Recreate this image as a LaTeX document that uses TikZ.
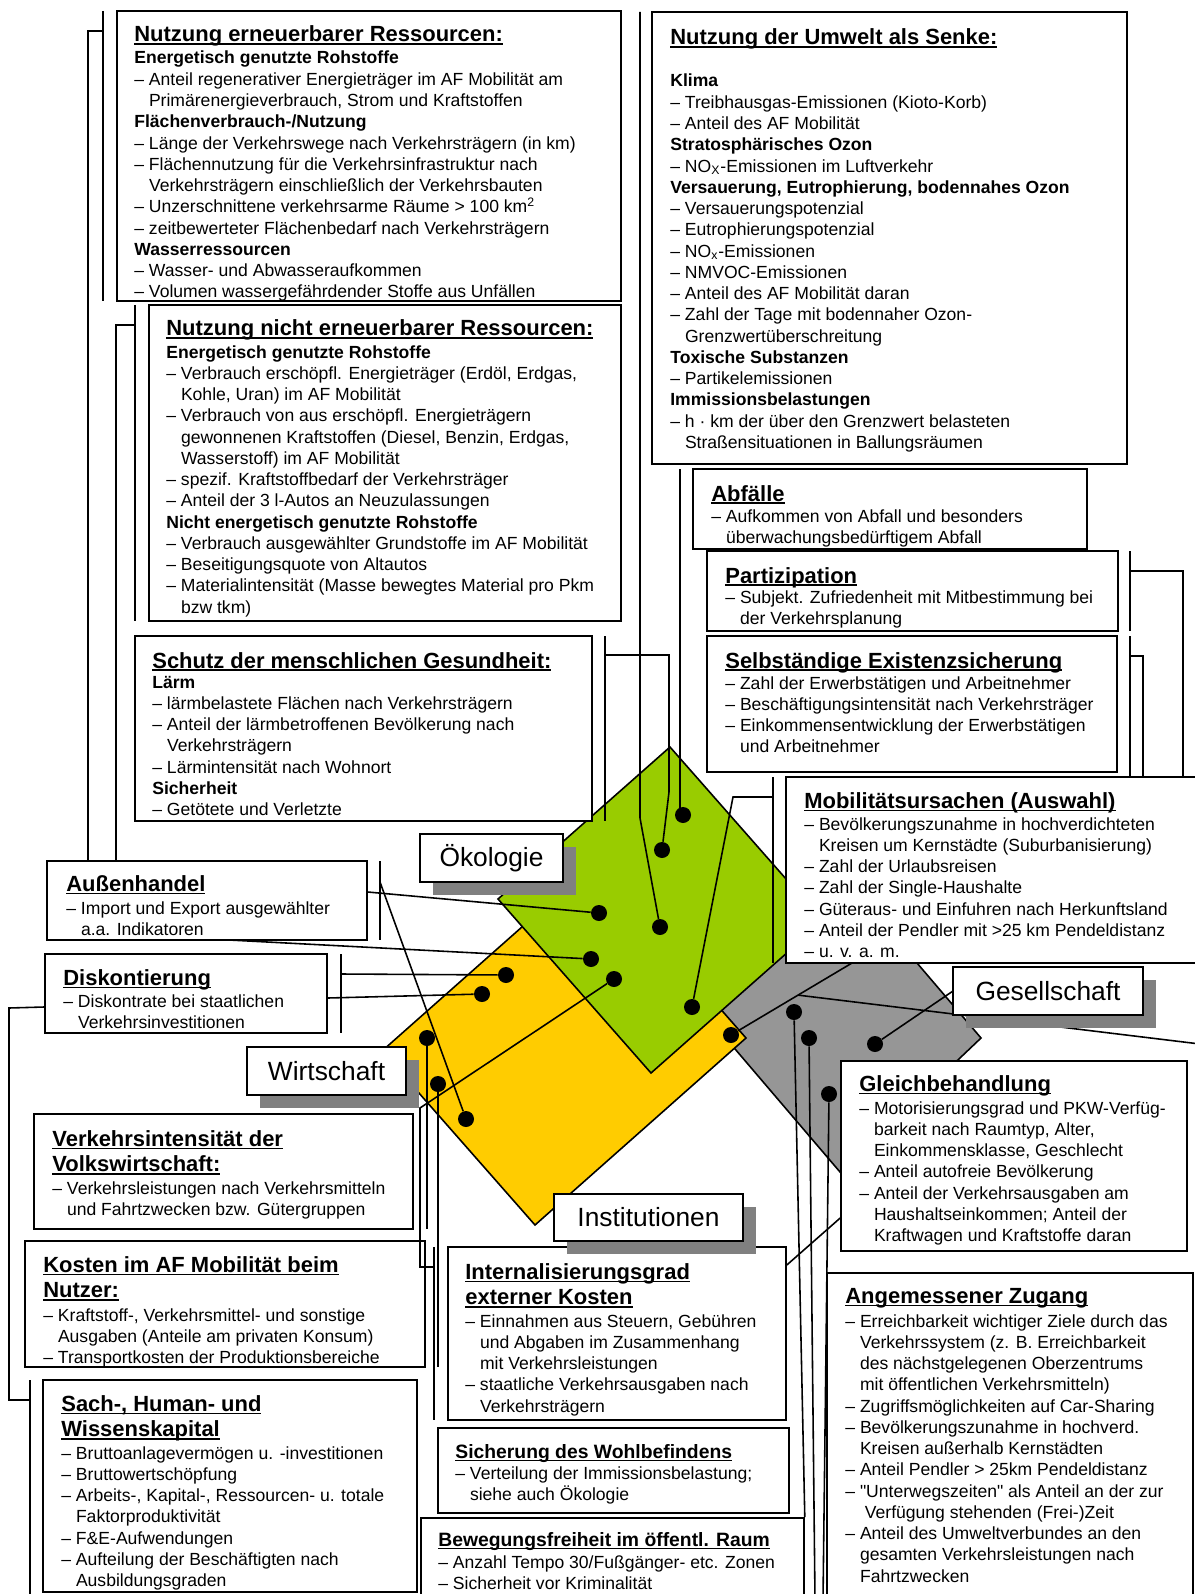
\documentclass[tikz,border=0pt]{standalone}
\usepackage{fontspec}
\setmainfont{Liberation Sans}[Ligatures=TeXOff]
\usetikzlibrary{fit,calc,shadows}
\definecolor{oekogruen}{HTML}{99CC00}
\definecolor{wirtgelb}{HTML}{FFCC00}
\definecolor{gesgrau}{HTML}{969696}
\definecolor{schatten}{HTML}{808080}
\newcommand{\einr}{\hspace*{0.834em}}
\newcommand{\zeilen}[1]{\parbox[t]{11cm}{#1}}
\newcommand{\unter}[1]{\leavevmode\setbox0\hbox{#1}\rlap{\rule[-1.7pt]{\wd0}{0.85pt}}\box0}

\begin{document}
\begin{tikzpicture}[x=0.02cm,y=-0.02cm,
box/.style={draw, line width=0.9pt, fill=white, inner sep=0pt},
titel/.style={anchor=base west, inner sep=0pt, font=\fontsize{12.5}{14.76}\selectfont\bfseries},
kleintitel/.style={anchor=base west, inner sep=0pt, font=\fontsize{11}{13}\selectfont\bfseries},
inhalt/.style={anchor=base west, inner sep=0pt, font=\fontsize{10}{12.1}\selectfont},
linie/.style={line width=0.9pt},
punkt/.style={circle, fill=black, inner sep=0pt, minimum size=0.32cm},
raute/.style={draw, line width=0.9pt},
etikett/.style={draw, line width=0.9pt, fill=white, minimum height=0.96cm, font=\fontsize{15}{18}\selectfont,
  drop shadow={shadow xshift=0.26cm, shadow yshift=-0.25cm, fill=schatten, opacity=1}}
]
\useasboundingbox (0,0) rectangle (1195,1594);

% Rauten
\coordinate (gg-o) at (824,854);
\coordinate (gg-r) at (981,1038);
\coordinate (gg-u) at (840,1172);
\coordinate (gg-l) at (683,988);
\coordinate (ge-o) at (593,864);
\coordinate (ge-r) at (746,1038);
\coordinate (ge-u) at (535,1225);
\coordinate (ge-l) at (382,1051);
\coordinate (gr-o) at (670,747);
\coordinate (gr-r) at (823,921);
\coordinate (gr-u) at (651,1073);
\coordinate (gr-l) at (498,899);
\filldraw[raute, fill=gesgrau] (gg-o) -- (gg-r) -- (gg-u) -- (gg-l) -- cycle;
\filldraw[raute, fill=wirtgelb] (ge-o) -- (ge-r) -- (ge-u) -- (ge-l) -- cycle;
\filldraw[raute, fill=oekogruen] (gr-o) -- (gr-r) -- (gr-u) -- (gr-l) -- cycle;

% Kaesten Oekologie
\node[box, fit={(117,11) (621,301)}] (erneuerbar) {};
\node[titel] (erneuerbar-t) at (134,42) {\unter{Nutzung erneuerbarer Ressourcen:}};
\node[inhalt] (erneuerbar-i) at (134,64) {\zeilen{\textbf{Energetisch genutzte Rohstoffe}\\
– Anteil regenerativer Energieträger im AF Mobilität am\\
\einr Primärenergieverbrauch, Strom und Kraftstoffen\\
\textbf{Flächenverbrauch-/Nutzung}\\
– Länge der Verkehrswege nach Verkehrsträgern (in km)\\
– Flächennutzung für die Verkehrsinfrastruktur nach\\
\einr Verkehrsträgern einschließlich der Verkehrsbauten\\
– Unzerschnittene verkehrsarme Räume > 100 km\textsuperscript{2}\\
– zeitbewerteter Flächenbedarf nach Verkehrsträgern\\
\textbf{Wasserressourcen}\\
– Wasser- und Abwasseraufkommen\\
– Volumen wassergefährdender Stoffe aus Unfällen}};

\node[box, fit={(149,305) (621,621)}] (nichterneuerbar) {};
\node[titel] (nichterneuerbar-t) at (166,336) {\unter{Nutzung nicht erneuerbarer Ressourcen:}};
\node[inhalt] (nichterneuerbar-i) at (166,358) {\zeilen{\textbf{Energetisch genutzte Rohstoffe}\\
– Verbrauch erschöpfl. Energieträger (Erdöl, Erdgas,\\
\einr Kohle, Uran) im AF Mobilität\\
– Verbrauch von aus erschöpfl. Energieträgern\\
\einr gewonnenen Kraftstoffen (Diesel, Benzin, Erdgas,\\
\einr Wasserstoff) im AF Mobilität\\
– spezif. Kraftstoffbedarf der Verkehrsträger\\
– Anteil der 3 l-Autos an Neuzulassungen\\
\textbf{Nicht energetisch genutzte Rohstoffe}\\
– Verbrauch ausgewählter Grundstoffe im AF Mobilität\\
– Beseitigungsquote von Altautos\\
– Materialintensität (Masse bewegtes Material pro Pkm\\
\einr bzw tkm)}};

\node[box, fit={(135,636) (592,821)}] (gesundheit) {};
\node[titel] (gesundheit-t) at (152,668) {\unter{Schutz der menschlichen Gesundheit:}};
\node[inhalt] (gesundheit-i) at (152,688) {\zeilen{\textbf{Lärm}\\
– lärmbelastete Flächen nach Verkehrsträgern\\
– Anteil der lärmbetroffenen Bevölkerung nach\\
\einr Verkehrsträgern\\
– Lärmintensität nach Wohnort\\
\textbf{Sicherheit}\\
– Getötete und Verletzte}};

\node[box, fit={(652,12) (1127,464)}] (senke) {};
\node[titel] (senke-t) at (670,45) {\unter{Nutzung der Umwelt als Senke:}};
\node[inhalt] (senke-i) at (670,87) {\zeilen{\textbf{Klima}\\
– Treibhausgas-Emissionen (Kioto-Korb)\\
– Anteil des AF Mobilität\\
\textbf{Stratosphärisches Ozon}\\
– NO\textsubscript{X}-Emissionen im Luftverkehr\\
\textbf{Versauerung, Eutrophierung, bodennahes Ozon}\\
– Versauerungspotenzial\\
– Eutrophierungspotenzial\\
– NO\textsubscript{x}-Emissionen\\
– NMVOC-Emissionen\\
– Anteil des AF Mobilität daran\\
– Zahl der Tage mit bodennaher Ozon-\\
\einr Grenzwertüberschreitung\\
\textbf{Toxische Substanzen}\\
– Partikelemissionen\\
\textbf{Immissionsbelastungen}\\
– h · km der über den Grenzwert belasteten\\
\einr Straßensituationen in Ballungsräumen}};

\node[box, fit={(693,469) (1087,549)}] (abfaelle) {};
\node[titel] (abfaelle-t) at (711,501) {\unter{Abfälle}};
\node[inhalt] (abfaelle-i) at (711,522) {\zeilen{– Aufkommen von Abfall und besonders\\
\einr überwachungsbedürftigem Abfall}};

% Kaesten Gesellschaft
\node[box, fit={(707,551) (1118,631)}] (partizipation) {};
\node[titel] (partizipation-t) at (725,583) {\unter{Partizipation}};
\node[inhalt] (partizipation-i) at (725,603) {\zeilen{– Subjekt. Zufriedenheit mit Mitbestimmung bei\\
\einr der Verkehrsplanung}};

\node[box, fit={(707,636) (1117,772)}] (existenz) {};
\node[titel] (existenz-t) at (725,668) {\unter{Selbständige Existenzsicherung}};
\node[inhalt] (existenz-i) at (725,689) {\zeilen{– Zahl der Erwerbstätigen und Arbeitnehmer\\
– Beschäftigungsintensität nach Verkehrsträger\\
– Einkommensentwicklung der Erwerbstätigen\\
\einr und Arbeitnehmer}};

\node[box, fit={(786,777) (1205,963)}] (mobilitaet) {};
\node[titel] (mobilitaet-t) at (804,808) {\unter{Mobilitätsursachen (Auswahl)}};
\node[inhalt] (mobilitaet-i) at (804,830) {\zeilen{– Bevölkerungszunahme in hochverdichteten\\
\einr Kreisen um Kernstädte (Suburbanisierung)\\
– Zahl der Urlaubsreisen\\
– Zahl der Single-Haushalte\\
– Güteraus- und Einfuhren nach Herkunftsland\\
– Anteil der Pendler mit >25 km Pendeldistanz\\
– u. v. a. m.}};

\node[box, fit={(841,1061) (1187,1251)}] (gleich) {};
\node[titel] (gleich-t) at (859,1091) {\unter{Gleichbehandlung}};
\node[inhalt] (gleich-i) at (859,1114) {\zeilen{– Motorisierungsgrad und PKW-Verfüg-\\
\einr barkeit nach Raumtyp, Alter,\\
\einr Einkommensklasse, Geschlecht\\
– Anteil autofreie Bevölkerung\\
– Anteil der Verkehrsausgaben am\\
\einr Haushaltseinkommen; Anteil der\\
\einr Kraftwagen und Kraftstoffe daran}};

\node[box, fit={(827,1273) (1193,1610)}] (zugang) {};
\node[titel] (zugang-t) at (845,1303) {\unter{Angemessener Zugang}};
\node[inhalt] (zugang-i) at (845,1327) {\zeilen{– Erreichbarkeit wichtiger Ziele durch das\\
\einr Verkehrssystem (z. B. Erreichbarkeit\\
\einr des nächstgelegenen Oberzentrums\\
\einr mit öffentlichen Verkehrsmitteln)\\
– Zugriffsmöglichkeiten auf Car-Sharing\\
– Bevölkerungszunahme in hochverd.\\
\einr Kreisen außerhalb Kernstädten\\
– Anteil Pendler > 25km Pendeldistanz\\
– "Unterwegszeiten" als Anteil an der zur\\
\einr\ Verfügung stehenden (Frei-)Zeit\\
– Anteil des Umweltverbundes an den\\
\einr gesamten Verkehrsleistungen nach\\
\einr Fahrtzwecken}};

% Kaesten Wirtschaft
\node[box, fit={(47,861) (367,940)}] (aussenhandel) {};
\node[titel] (aussenhandel-t) at (66,891) {\unter{Außenhandel}};
\node[inhalt] (aussenhandel-i) at (66,914) {\zeilen{– Import und Export ausgewählter\\
\einr a.a. Indikatoren}};

\node[box, fit={(45,954) (327,1033)}] (diskont) {};
\node[titel] (diskont-t) at (63,985) {\unter{Diskontierung}};
\node[inhalt] (diskont-i) at (63,1007) {\zeilen{– Diskontrate bei staatlichen\\
\einr Verkehrsinvestitionen}};

\node[box, fit={(34,1114) (413,1229)}] (intensitaet) {};
\node[titel] (intensitaet-t) at (52,1146) {\zeilen{\unter{Verkehrsintensität der}\\\unter{Volkswirtschaft:}}};
\node[inhalt] (intensitaet-i) at (52,1194) {\zeilen{– Verkehrsleistungen nach Verkehrsmitteln\\
\einr und Fahrtzwecken bzw. Gütergruppen}};

\node[box, fit={(25,1241) (425,1367)}] (kosten) {};
\node[titel] (kosten-t) at (43,1272) {\zeilen{\unter{Kosten im AF Mobilität beim}\\\unter{Nutzer:}}};
\node[inhalt] (kosten-i) at (43,1321) {\zeilen{– Kraftstoff-, Verkehrsmittel- und sonstige\\
\einr Ausgaben (Anteile am privaten Konsum)\\
– Transportkosten der Produktionsbereiche}};

\node[box, fit={(43,1380) (417,1592)}] (kapital) {};
\node[titel] (kapital-t) at (61,1411) {\zeilen{\unter{Sach-, Human- und}\\\unter{Wissenskapital}}};
\node[inhalt] (kapital-i) at (61,1459) {\zeilen{– Bruttoanlagevermögen u. -investitionen\\
– Bruttowertschöpfung\\
– Arbeits-, Kapital-, Ressourcen- u. totale\\
\einr Faktorproduktivität\\
– F\&E-Aufwendungen\\
– Aufteilung der Beschäftigten nach\\
\einr Ausbildungsgraden}};

% Kaesten Institutionen
\node[box, fit={(448,1247) (786,1420)}] (internal) {};
\node[titel] (internal-t) at (465,1279) {\zeilen{\unter{Internalisierungsgrad}\\\unter{externer Kosten}}};
\node[inhalt] (internal-i) at (465,1327) {\zeilen{– Einnahmen aus Steuern, Gebühren\\
\einr und Abgaben im Zusammenhang\\
\einr mit Verkehrsleistungen\\
– staatliche Verkehrsausgaben nach\\
\einr Verkehrsträgern}};

\node[box, fit={(438,1428) (789,1513)}] (wohl) {};
\node[kleintitel] (wohl-t) at (455,1458) {\unter{Sicherung des Wohlbefindens}};
\node[inhalt] (wohl-i) at (455,1479) {\zeilen{– Verteilung der Immissionsbelastung;\\
\einr siehe auch Ökologie}};

\node[box, fit={(421,1518) (804,1610)}] (bewegung) {};
\node[kleintitel] (bewegung-t) at (438,1546) {\unter{Bewegungsfreiheit im öffentl. Raum}};
\node[inhalt] (bewegung-i) at (438,1568) {\zeilen{– Anzahl Tempo 30/Fußgänger- etc. Zonen\\
– Sicherheit vor Kriminalität}};

% Punkte
\node[punkt] (d1) at (683,815) {};
\node[punkt] (d2) at (662,850) {};
\node[punkt] (d3) at (599,913) {};
\node[punkt] (d4) at (660,927) {};
\node[punkt] (d5) at (591,959) {};
\node[punkt] (d6) at (614,979) {};
\node[punkt] (d7) at (692,1007) {};
\node[punkt] (d8) at (506,975) {};
\node[punkt] (d9) at (482,994) {};
\node[punkt] (d10) at (466,1119) {};
\node[punkt] (d11) at (427,1038) {};
\node[punkt] (d12) at (438,1084) {};
\node[punkt] (d13) at (731,1035) {};
\node[punkt] (g1) at (794,1012) {};
\node[punkt] (g2) at (809,1038) {};
\node[punkt] (g3) at (875,1044) {};
\node[punkt] (g4) at (829,1094) {};

% Verbindungen links oben
\draw[linie] (103,11) coordinate (ern-a) -- (103,301) coordinate (ern-b);
\draw[linie] (103,31) coordinate (ern-s) -- (88,31) coordinate (ern-k) -- (ern-k |- aussenhandel.north);
\draw[linie] (135,305) coordinate (nie-a) -- (135,621) coordinate (nie-b);
\draw[linie] (135,325) coordinate (nie-s) -- (116,325) coordinate (nie-k) -- (nie-k |- aussenhandel.north);

% Verbindungen Oekologie
\draw[linie] (605,636) coordinate (ges-a) -- (605,821) coordinate (ges-b);
\draw[linie] (605,655) coordinate (ges-s) -- (669,655) coordinate (ges-k) -- (669,792) coordinate (ges-m) -- (d2);
\draw[linie] (640,12) coordinate (sen-a) -- (640,818) coordinate (sen-m) -- (d4);
\draw[linie] (680,469) coordinate (abf-a) -- (680,808) coordinate (abf-m) -- (d1);
\draw[linie] (773,777) coordinate (mob-a) -- (773,963) coordinate (mob-b);
\draw[linie] (773,797) coordinate (mob-s) -- (733,797) coordinate (mob-k) -- (d7);

% Verbindungen Gesellschaft
\draw[linie] (1130,551) coordinate (par-a) -- (1130,631) coordinate (par-b);
\draw[linie] (1130,571) coordinate (par-s) -- (1183,571) coordinate (par-k) -- (par-k |- mobilitaet.north);
\draw[linie] (1130,636) coordinate (exi-a) -- (1130,776) coordinate (exi-b);
\draw[linie] (1130,656) coordinate (exi-s) -- (1143,656) coordinate (exi-k) -- (exi-k |- mobilitaet.north);
\coordinate (mob-u) at (852,963);
\draw[linie] (d13) -- (mob-u);
\coordinate (abzw) at ($(d13)!0.554!(mob-u)$);
\coordinate (rand) at (1200,1044);
\draw[linie] (abzw) -- (rand);
\draw[linie] (g3) -- (953,991) coordinate (ges-w);
\draw[linie] (g1) -- (bewegung.north east);
\draw[linie] (g2) -- (815,1600) coordinate (g2-e);
\draw[linie] (g4) -- (823,1600) coordinate (g4-e);
\draw[linie] (internal.east |- 0,1265) coordinate (int-o) -- (gleich.west |- 0,1218) coordinate (gle-w);

% Verbindungen Wirtschaft
\draw[linie] (380,861) coordinate (aus-a) -- (380,940) coordinate (aus-b);
\draw[linie] (aussenhandel.east |- 0,892) coordinate (aus-r) -- (d3);
\draw[linie] (229,940) coordinate (aus-u) -- (d5);
\draw[linie] (380,882) coordinate (aus-s) -- (d10);
\draw[linie] (341,954) coordinate (dis-a) -- (341,1033) coordinate (dis-b);
\draw[linie] (341,974) coordinate (dis-s) -- (d8);
\draw[linie] (diskont.east |- 0,998) coordinate (dis-r) -- (d9);
\draw[linie] (diskont.west |- 0,1007) coordinate (dis-l) -- (9,1008) coordinate (dis-k) -- (9,1400) coordinate (kap-k) -- (30,1400) coordinate (kap-s);
\draw[linie] (30,1380) coordinate (kap-a) -- (30,1600) coordinate (kap-b);
\draw[linie] (d11) -- (427,1229) coordinate (int-e);
\draw[linie] (d12) -- (438,1367) coordinate (kos-e);

% Verbindungen Institutionen
\draw[linie] (d6) -- (420,1108) coordinate (inst-k) -- (420,1267) coordinate (inst-u) -- (434,1267) coordinate (inst-s);
\draw[linie] (434,1247) coordinate (inst-a) -- (434,1420) coordinate (inst-b);

% Etiketten
\node[etikett, minimum width=2.86cm] (oekologie) at (491.5,858) {Ökologie};
\node[etikett, minimum width=3.18cm] (wirtschaft) at (326.5,1071) {Wirtschaft};
\node[etikett, minimum width=3.8cm] (gesellschaft) at (1048,991) {Gesellschaft};
\node[etikett, minimum width=3.78cm, minimum height=0.94cm] (institutionen) at (648.5,1217.5) {Institutionen};

\end{tikzpicture}
\end{document}
